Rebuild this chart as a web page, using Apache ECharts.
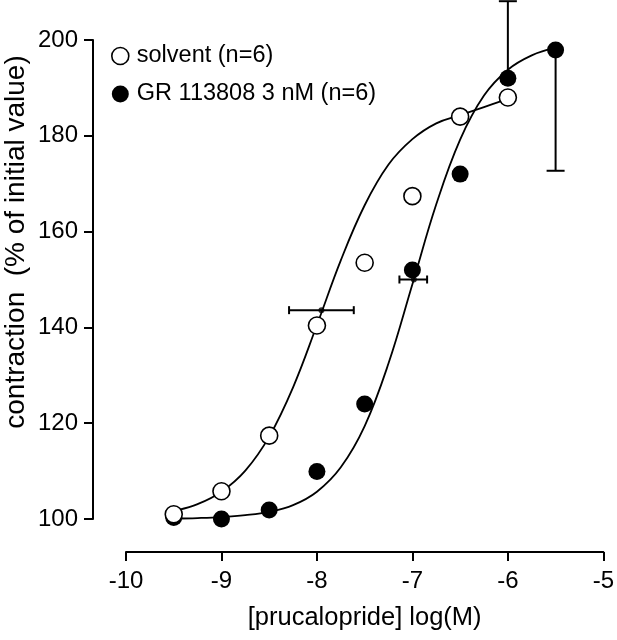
<!DOCTYPE html>
<html>
<head>
<meta charset="utf-8">
<script src="https://cdn.jsdelivr.net/npm/echarts@6/dist/echarts.min.js"></script>
<style>
html,body{margin:0;padding:0;background:#fff;}
#chart{width:617px;height:640px;}
</style>
</head>
<body>
<div id="chart"></div>
<script>
// ---- data ----
const solventDose = [-9.5, -9, -8.5, -8, -7.5, -7, -6.5, -6];
const solventResp = [101.0, 105.8, 117.4, 140.4, 153.5, 167.4, 184.0, 188.0];
const grDose = [-9.5, -9, -8.5, -8, -7.5, -7, -6.5, -6, -5.5];
const grResp = [100.3, 100.0, 101.9, 109.9, 124.0, 152.0, 172.0, 192.0, 197.9];

const solventFitX = [-9.45, -9.25, -9, -8.75, -8.5, -8.25, -8, -7.75, -7.5, -7.25, -7, -6.75, -6.5, -6.25, -6];
const solventFitY = [101.9, 103.1, 105.7, 110.1, 117.2, 127.5, 140.5, 154.0, 165.5, 174.0, 179.3, 182.6, 184.3, 186.0, 187.7];
const grFitX = [-9.5, -9.25, -9, -8.75, -8.5, -8.25, -8, -7.75, -7.5, -7.25, -7, -6.75, -6.5, -6.25, -6, -5.75, -5.5];
const grFitY = [100.1, 100.2, 100.4, 100.8, 101.5, 102.9, 105.7, 110.8, 119.4, 132.5, 149.0, 165.7, 179.2, 188.4, 193.8, 196.8, 198.4];

// EC50 markers with horizontal error bars: [y, xLow, xHigh, xCentre]
const ec50Bars = [[143.6, -8.292, -7.614, -7.953], [150.0, -7.136, -6.846, -6.985]];
// vertical one-sided error bars: [x, from, to]
const vErrBars = [[-6, 192.0, 208.1], [-5.5, 197.9, 172.7]];

const xTicks = [-10, -9, -8, -7, -6, -5];
const yTicks = [100, 120, 140, 160, 180, 200];

const solventName = 'solvent (n=6)';
const grName = 'GR 113808 3 nM (n=6)';
const FONT = 'Liberation Sans, Arial, Helvetica, sans-serif';

const zip = (a, b) => a.map((v, i) => [v, b[i]]);

const chart = echarts.init(document.getElementById('chart'), null, {renderer: 'canvas'});
chart.setOption({
  animation: false,
  backgroundColor: '#fff',
  grid: {left: 126, right: 9, top: 40, bottom: 121},
  legend: {
    orient: 'vertical', left: 106, top: 39, itemWidth: 17, itemHeight: 17, itemGap: 14,
    textStyle: {fontSize: 23.5, fontFamily: FONT, color: '#000', padding: [0, 0, 0, 3]},
    data: [
      {name: solventName, icon: 'circle', itemStyle: {color: '#fff', borderColor: '#000', borderWidth: 1.6}},
      {name: grName, icon: 'circle', itemStyle: {color: '#000', borderColor: '#000', borderWidth: 0}}
    ]
  },
  xAxis: {
    type: 'value', min: xTicks[0], max: xTicks[xTicks.length - 1], interval: 1,
    offset: 33,
    axisLine: {onZero: false, lineStyle: {color: '#000', width: 2}},
    axisTick: {length: 9, lineStyle: {color: '#000', width: 2}},
    axisLabel: {fontSize: 24, fontFamily: FONT, color: '#000', margin: 17},
    splitLine: {show: false},
    name: '[prucalopride] log(M)', nameLocation: 'middle', nameGap: 53,
    nameTextStyle: {fontSize: 25.5, fontFamily: FONT, color: '#000'}
  },
  yAxis: {
    type: 'value', min: yTicks[0], max: yTicks[yTicks.length - 1], interval: 20,
    offset: 33,
    axisLine: {onZero: false, lineStyle: {color: '#000', width: 2}},
    axisTick: {length: 9, lineStyle: {color: '#000', width: 2}},
    axisLabel: {fontSize: 24, fontFamily: FONT, color: '#000', margin: 15},
    splitLine: {show: false}
  },
  graphic: [{
    type: 'text', rotation: Math.PI / 2,
    x: 16, y: 242,
    style: {text: 'contraction  (% of initial value)', fontSize: 28, fontFamily: FONT, fill: '#000',
            align: 'center', verticalAlign: 'middle'}
  }],
  series: [
    {
      type: 'line', data: zip(solventFitX, solventFitY), smooth: 0.4, symbol: 'none',
      lineStyle: {color: '#000', width: 1.8}, z: 2, silent: true
    },
    {
      type: 'line', data: zip(grFitX, grFitY), smooth: 0.4, symbol: 'none',
      lineStyle: {color: '#000', width: 1.8}, z: 2, silent: true
    },
    {
      type: 'custom', z: 3, clip: false,
      data: vErrBars,
      renderItem: function (params, api) {
        const p0 = api.coord([api.value(0), api.value(1)]);
        const p1 = api.coord([api.value(0), api.value(2)]);
        const w = 9;
        return {type: 'group', children: [
          {type: 'line', shape: {x1: p0[0], y1: p0[1], x2: p1[0], y2: p1[1]}, style: {stroke: '#000', lineWidth: 2}},
          {type: 'line', shape: {x1: p1[0] - w, y1: p1[1], x2: p1[0] + w, y2: p1[1]}, style: {stroke: '#000', lineWidth: 2}}
        ]};
      }
    },
    {
      type: 'custom', z: 3, clip: false,
      data: ec50Bars,
      renderItem: function (params, api) {
        const a = api.coord([api.value(1), api.value(0)]);
        const b = api.coord([api.value(2), api.value(0)]);
        const h = 4;
        return {type: 'group', children: [
          {type: 'line', shape: {x1: a[0], y1: a[1], x2: b[0], y2: b[1]}, style: {stroke: '#000', lineWidth: 2}},
          {type: 'line', shape: {x1: a[0], y1: a[1] - h, x2: a[0], y2: a[1] + h}, style: {stroke: '#000', lineWidth: 2}},
          {type: 'line', shape: {x1: b[0], y1: b[1] - h, x2: b[0], y2: b[1] + h}, style: {stroke: '#000', lineWidth: 2}}
        ]};
      }
    },
    {
      type: 'scatter', data: ec50Bars.map(d => [d[3], d[0]]), symbol: 'circle', symbolSize: 6,
      itemStyle: {color: '#000'}, z: 4, silent: true
    },
    {
      name: grName, type: 'scatter', data: zip(grDose, grResp), symbol: 'circle', symbolSize: 17,
      itemStyle: {color: '#000', opacity: 1}, z: 5
    },
    {
      name: solventName, type: 'scatter', data: zip(solventDose, solventResp), symbol: 'circle', symbolSize: 17,
      itemStyle: {color: '#fff', borderColor: '#000', borderWidth: 1.6, opacity: 1}, z: 6
    }
  ]
});
</script>
</body>
</html>
